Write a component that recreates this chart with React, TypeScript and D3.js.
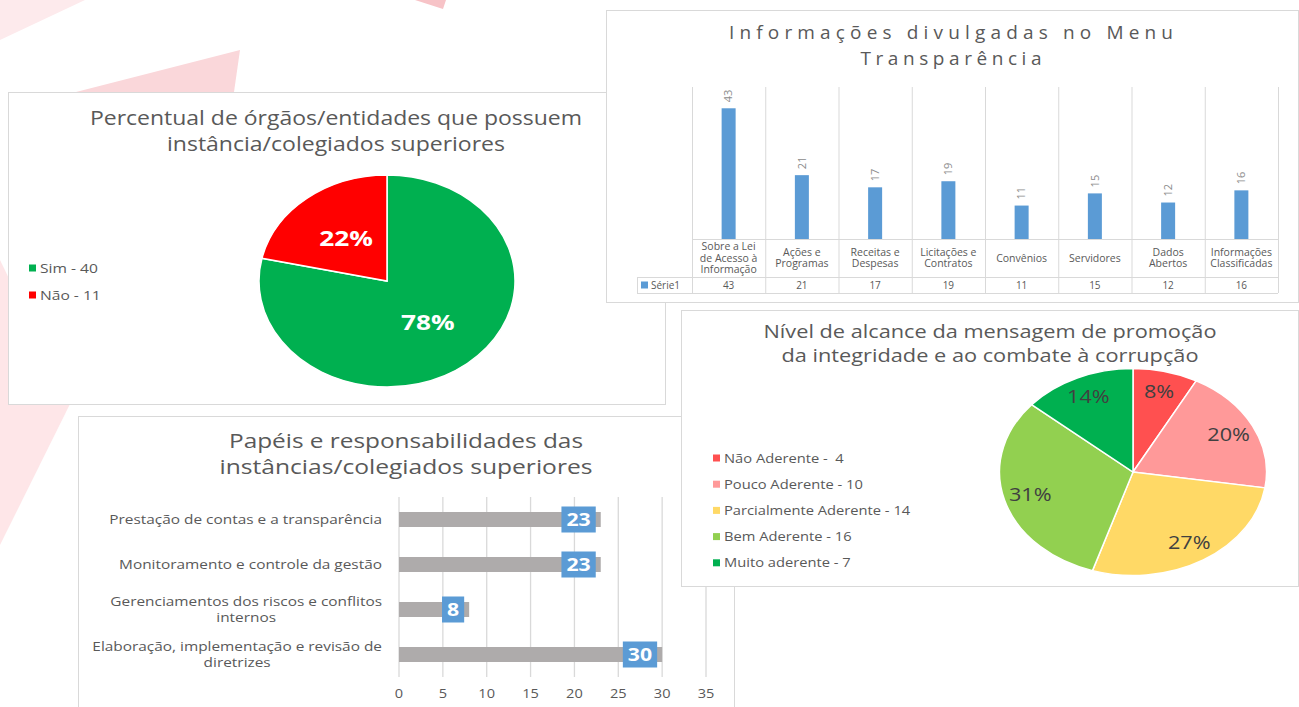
import React, { useEffect, useRef } from "react";
import * as d3 from "d3";

const FONT = "'Open Sans', 'Noto Sans', sans-serif";
const TEXT = "#595959";
const GRID = "#d9d9d9";

// Chart 1 — órgãos com instância/colegiados superiores
const presenceTitle = ["Percentual de órgãos/entidades que possuem", "instância/colegiados superiores"];
const presenceLabels = ["Sim - 40", "Não - 11"];
const presenceValues = [40, 11];
const presenceColors = ["#00B050", "#FF0000"];

// Chart 2 — Menu Transparência
const menuTitle = ["Informações divulgadas no Menu", "Transparência"];
const menuCategories = [
  "Sobre a Lei\nde Acesso à\nInformação",
  "Ações e\nProgramas",
  "Receitas e\nDespesas",
  "Licitações e\nContratos",
  "Convênios",
  "Servidores",
  "Dados\nAbertos",
  "Informações\nClassificadas",
];
const menuValues = [43, 21, 17, 19, 11, 15, 12, 16];
const menuSeriesName = "Série1";
const menuYMax = 50;

// Chart 3 — Papéis e responsabilidades
const roleTitle = ["Papéis e responsabilidades das", "instâncias/colegiados superiores"];
const roleCategories = [
  "Prestação de contas e a transparência",
  "Monitoramento e controle da gestão",
  "Gerenciamentos dos riscos e conflitos\ninternos",
  "Elaboração, implementação e revisão de\ndiretrizes",
];
const roleValues = [23, 23, 8, 30];
const roleTicks = [0, 5, 10, 15, 20, 25, 30, 35];

// Chart 4 — Nível de alcance
const reachTitle = ["Nível de alcance da mensagem de promoção", "da integridade e ao combate à corrupção"];
const reachLabels = [
  "Não Aderente -  4",
  "Pouco Aderente - 10",
  "Parcialmente Aderente - 14",
  "Bem Aderente - 16",
  "Muito aderente - 7",
];
const reachValues = [4, 10, 14, 16, 7];
const reachColors = ["#FF5050", "#FF9999", "#FFD966", "#92D050", "#00B050"];

type Sel = d3.Selection<SVGGElement, unknown, null, undefined>;

// the source picture is widened horizontally; widen text to match
function stretch(sel: any, k: number) {
  const w = (sel.node() as SVGTextElement).getComputedTextLength();
  sel.attr("textLength", w * k).attr("lengthAdjust", "spacingAndGlyphs");
  return w * k;
}

function panel(svg: any, x: number, y: number, w: number, h: number): Sel {
  const g = svg.append("g");
  g.append("rect")
    .attr("x", x + 0.5)
    .attr("y", y + 0.5)
    .attr("width", w)
    .attr("height", h)
    .attr("fill", "#fff")
    .attr("stroke", GRID)
    .attr("stroke-width", 1);
  return g;
}

function title(
  g: Sel,
  cx: number,
  ys: number[],
  lines: string[],
  size: number,
  widths: number[],
  adjust: string
) {
  lines.forEach((t, i) => {
    g.append("text")
      .attr("x", cx)
      .attr("y", ys[i])
      .attr("dy", "0.35em")
      .attr("text-anchor", "middle")
      .attr("font-size", size)
      .attr("fill", TEXT)
      .attr("textLength", widths[i])
      .attr("lengthAdjust", adjust)
      .text(t);
  });
}

function pieChart(
  g: Sel,
  cx: number,
  cy: number,
  rx: number,
  ry: number,
  values: number[],
  colors: string[],
  labelFrac: number,
  labelColor: string,
  labelSize: number,
  labelWeight: string,
  k: number
) {
  const total = d3.sum(values);
  const arcs = d3.pie<number>().sort(null).value((d) => d)(values);
  const arc = d3.arc<d3.PieArcDatum<number>>().innerRadius(0).outerRadius(ry);
  const pg = g.append("g").attr("transform", `translate(${cx},${cy}) scale(${rx / ry},1)`);
  pg.selectAll("path")
    .data(arcs)
    .join("path")
    .attr("d", arc as any)
    .attr("fill", (_d, i) => colors[i])
    .attr("stroke", "#fff")
    .attr("stroke-width", 1.5)
    .attr("vector-effect", "non-scaling-stroke");
  arcs.forEach((a) => {
    const mid = (a.startAngle + a.endAngle) / 2;
    const t = g.append("text")
      .attr("x", cx + rx * labelFrac * Math.sin(mid))
      .attr("y", cy - ry * labelFrac * Math.cos(mid))
      .attr("dy", "0.35em")
      .attr("text-anchor", "middle")
      .attr("font-size", labelSize)
      .attr("font-weight", labelWeight)
      .attr("fill", labelColor)
      .text(`${Math.round((a.value / total) * 100)}%`);
    stretch(t, k);
  });
}

function legend(g: Sel, x: number, y0: number, step: number, labels: string[], colors: string[], k: number) {
  labels.forEach((l, i) => {
    const y = y0 + i * step;
    g.append("rect").attr("x", x).attr("y", y - 3.5).attr("width", 7).attr("height", 7).attr("fill", colors[i]);
    const t = g.append("text")
      .attr("x", x + 11)
      .attr("y", y)
      .attr("dy", "0.35em")
      .attr("font-size", 13)
      .attr("fill", TEXT)
      .style("white-space", "pre")
      .text(l);
    stretch(t, k);
  });
}

export default function App() {
  const ref = useRef<SVGSVGElement>(null);

  useEffect(() => {
    const svg = d3.select(ref.current as SVGSVGElement);
    svg.selectAll("*").remove();

    // background decorations
    const bg = svg.append("g");
    const polys: [number, number][][] = [
      [[0, 0], [85, 0], [0, 40]],
      [[0, 260], [70, 404], [0, 545]],
      [[76, 92], [240, 50], [234, 92]],
      [[415, 0], [446, 0], [443, 9]],
    ];
    const fills = ["#fdeaec", "#fee6e8", "#fad7da", "#f7c3c7"];
    polys.forEach((p, i) => {
      bg.append("path").attr("d", d3.line()(p) + "Z").attr("fill", fills[i]);
    });

    // ---------- Panel 1 ----------
    const p1 = panel(svg, 8, 92, 657, 312);
    title(p1, 336, [118, 144], presenceTitle, 20, [492, 338], "spacingAndGlyphs");
    legend(p1, 29, 268, 27, presenceLabels, presenceColors, 1.2);
    pieChart(p1, 387, 281, 128, 106, presenceValues, presenceColors, 0.51, "#fff", 21, "bold", 1.25);

    // ---------- Panel 2 ----------
    const p2 = panel(svg, 606, 10, 692, 292);
    title(p2, 951, [32, 58], menuTitle, 19, [444, 181], "spacing");
    const idx = menuValues.map((_, i) => i);
    const mx = d3.scaleBand<number>().domain(idx).range([692, 1278]);
    const my = d3.scaleLinear().domain([0, menuYMax]).range([239, 87]);
    const rowMid = 277;
    const rowBot = 293;
    const gridXs = idx.map((i) => mx(i) as number).concat([mx.range()[1]]);
    gridXs.forEach((x) => {
      p2.append("line")
        .attr("x1", x + 0.5).attr("x2", x + 0.5)
        .attr("y1", my.range()[1]).attr("y2", rowBot)
        .attr("stroke", GRID);
    });
    p2.append("line").attr("x1", 637.5).attr("x2", 637.5).attr("y1", rowMid).attr("y2", rowBot).attr("stroke", GRID);
    [[my(0), mx.range()[0]], [rowMid, 637], [rowBot, 637]].forEach(([y, x0]) => {
      p2.append("line")
        .attr("x1", x0).attr("x2", mx.range()[1])
        .attr("y1", y + 0.5).attr("y2", y + 0.5)
        .attr("stroke", GRID);
    });
    const bw = 14;
    menuValues.forEach((v, i) => {
      const cx = (mx(i) as number) + mx.bandwidth() / 2;
      p2.append("rect")
        .attr("x", cx - bw / 2)
        .attr("y", my(v))
        .attr("width", bw)
        .attr("height", my(0) - my(v))
        .attr("fill", "#5B9BD5");
      p2.append("text")
        .attr("transform", `translate(${cx},${my(v) - 6}) rotate(-90)`)
        .attr("dy", "0.35em")
        .attr("font-size", 11)
        .attr("fill", "#8c8c8c")
        .text(v);
      const lines = menuCategories[i].split("\n");
      const lh = 11.5;
      const cy = (my(0) + rowMid) / 2;
      lines.forEach((t, j) => {
        const tx = p2.append("text")
          .attr("x", cx)
          .attr("y", cy - ((lines.length - 1) * lh) / 2 + j * lh)
          .attr("dy", "0.35em")
          .attr("text-anchor", "middle")
          .attr("font-size", 10)
          .attr("fill", TEXT)
          .text(t);
        stretch(tx, 1.05);
      });
      p2.append("text")
        .attr("x", cx)
        .attr("y", (rowMid + rowBot) / 2)
        .attr("dy", "0.35em")
        .attr("text-anchor", "middle")
        .attr("font-size", 10)
        .attr("fill", TEXT)
        .text(v);
    });
    p2.append("rect").attr("x", 641).attr("y", 281.5).attr("width", 7).attr("height", 7).attr("fill", "#5B9BD5");
    p2.append("text")
      .attr("x", 651)
      .attr("y", (rowMid + rowBot) / 2)
      .attr("dy", "0.35em")
      .attr("font-size", 10)
      .attr("fill", TEXT)
      .text(menuSeriesName);

    // ---------- Panel 3 ----------
    const p3 = panel(svg, 78, 416, 656, 300);
    title(p3, 406, [441, 467], roleTitle, 20, [354, 373], "spacingAndGlyphs");
    const rx = d3.scaleLinear().domain([0, 35]).range([399, 706]);
    const ry = d3.scaleBand<number>().domain(roleValues.map((_, i) => i)).range([497, 677]);
    roleTicks.forEach((t) => {
      p3.append("line")
        .attr("x1", rx(t)).attr("x2", rx(t))
        .attr("y1", ry.range()[0]).attr("y2", ry.range()[1])
        .attr("stroke", GRID).attr("stroke-width", 1.3);
      const tx = p3.append("text")
        .attr("x", rx(t))
        .attr("y", 693)
        .attr("dy", "0.35em")
        .attr("text-anchor", "middle")
        .attr("font-size", 13)
        .attr("fill", TEXT)
        .text(t);
      stretch(tx, 1.12);
    });
    const barH = ry.bandwidth() / 3;
    roleValues.forEach((v, i) => {
      const cy = (ry(i) as number) + ry.bandwidth() / 2;
      p3.append("rect")
        .attr("x", rx(0))
        .attr("y", cy - barH / 2)
        .attr("width", rx(v) - rx(0))
        .attr("height", barH)
        .attr("fill", "#AEABAB");
      const lbl = p3.append("g");
      const rect = lbl.append("rect").attr("fill", "#5B9BD5");
      const txt = lbl.append("text")
        .attr("y", cy)
        .attr("dy", "0.35em")
        .attr("text-anchor", "middle")
        .attr("font-size", 18)
        .attr("font-weight", "bold")
        .attr("fill", "#fff")
        .text(v);
      const tw = stretch(txt, 1.18);
      const boxW = tw + 10;
      const right = rx(v) - 5;
      rect.attr("x", right - boxW).attr("y", cy - 13).attr("width", boxW).attr("height", 26);
      txt.attr("x", right - boxW / 2);

      // category labels
      const lines = roleCategories[i].split("\n");
      const lh = 16.5;
      const right0 = 382;
      const nodes = lines.map((t, j) =>
        p3.append("text")
          .attr("y", cy - ((lines.length - 1) * lh) / 2 + j * lh)
          .attr("dy", "0.35em")
          .attr("font-size", 13.5)
          .attr("fill", TEXT)
          .text(t)
      );
      const widths = nodes.map((n) => stretch(n, 1.14));
      const maxW = d3.max(widths) || 0;
      nodes.forEach((n) => n.attr("x", right0 - maxW / 2).attr("text-anchor", "middle"));
    });

    // ---------- Panel 4 ----------
    const p4 = panel(svg, 681, 310, 617, 276);
    title(p4, 990, [332, 356], reachTitle, 18.5, [453, 417], "spacingAndGlyphs");
    legend(p4, 713, 458, 26.2, reachLabels, reachColors, 1.13);
    pieChart(p4, 1133, 472, 133.5, 103.5, reachValues, reachColors, 0.8, "#404040", 18, "normal", 1.2);
  }, []);

  return (
    <svg
      ref={ref}
      width={1299}
      height={707}
      style={{ position: "absolute", left: 0, top: 0, background: "#fff", fontFamily: FONT }}
    />
  );
}
